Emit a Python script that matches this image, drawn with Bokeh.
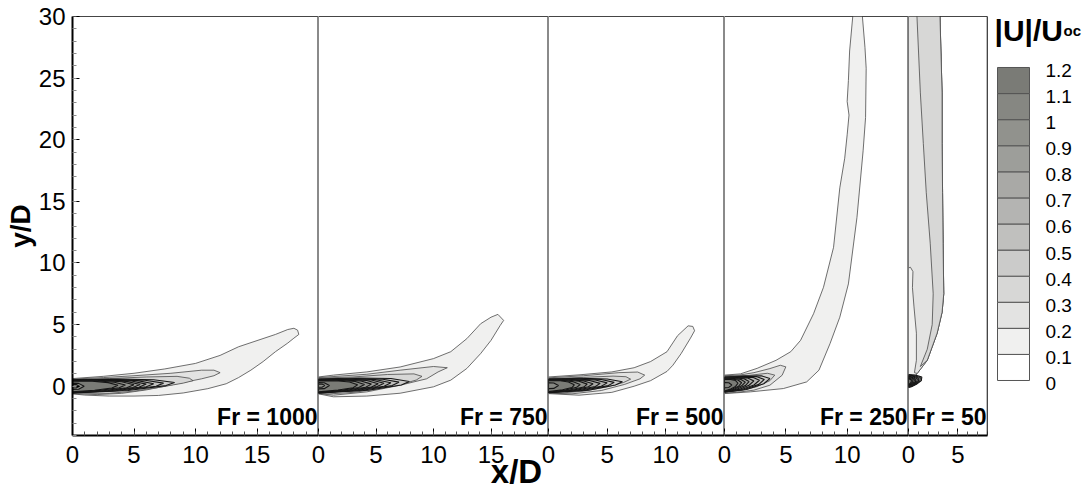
from bokeh.plotting import figure
from bokeh.models import Range1d, FixedTicker, Label, Span, ColumnDataSource
from bokeh.layouts import row, column
from bokeh.embed import file_html
from bokeh.resources import INLINE
from bokeh.core.properties import value

FONT = "Liberation Sans"

# ---------------- legend / contour levels ----------------
LEGEND_LEVELS = [0, 0.1, 0.2, 0.3, 0.4, 0.5, 0.6, 0.7, 0.8, 0.9, 1.0, 1.1, 1.2]
LEGEND_LABELS = ["0", "0.1", "0.2", "0.3", "0.4", "0.5", "0.6", "0.7", "0.8", "0.9", "1", "1.1", "1.2"]
BAND_COLORS = ["#ffffff", "#f0f0ef", "#e3e3e2", "#d7d7d6", "#cbcbca", "#c0c0be",
               "#b4b4b2", "#a9a9a6", "#9d9e9a", "#91928d", "#868782", "#7a7b76"]

# ---------------- panels ----------------
FR_LABELS = ["Fr = 1000", "Fr = 750", "Fr = 500", "Fr = 250", "Fr = 50"]
X_MAX = [20, 20, 15, 15, 8]
X_TICKS = [[0, 5, 10, 15], [0, 5, 10, 15], [0, 5, 10], [0, 5, 10], [0, 5]]
Y_TICKS = [0, 5, 10, 15, 20, 25, 30]
Y_MIN, Y_MAX = -4, 30

# Panel 1 (Fr = 1000)
P1_L1_X = [0, 2.5, 5, 7.5, 10, 12, 13.5, 15, 16.5, 17.5, 18.0, 18.3, 18.4, 18.0, 17.5, 16.5, 15.5, 14.5, 13.5, 12.5, 11, 9, 7, 5, 3, 1, 0]
P1_L1_Y = [0.62, 0.8, 1.05, 1.4, 1.85, 2.5, 3.2, 3.7, 4.2, 4.6, 4.7, 4.55, 4.2, 3.9, 3.5, 2.8, 2.0, 1.3, 0.7, 0.2, -0.2, -0.55, -0.75, -0.8, -0.8, -0.72, -0.62]
P1_L2_X = [0, 2.5, 5, 8, 10.5, 11.5, 12, 11.5, 10.5, 8, 6, 4, 2, 0]
P1_L2_Y = [0.58, 0.7, 0.85, 1.05, 1.3, 1.3, 1.1, 0.85, 0.6, 0.1, -0.3, -0.58, -0.68, -0.6]
P1_L3_X = [0, 3, 6, 8.5, 9.5, 9.8, 9, 7, 5, 3, 0]
P1_L3_Y = [0.55, 0.62, 0.75, 0.8, 0.65, 0.45, 0.25, -0.1, -0.4, -0.58, -0.56]
P1_CORE_X = [[0, 3.7, 6.6, 8.3, 7.6, 4.5, 0],
             [0, 3.3, 5.9, 7.4, 6.8, 4.0, 0],
             [0, 3.0, 5.3, 6.6, 6.0, 3.6, 0],
             [0, 2.7, 4.8, 6.0, 5.4, 3.2, 0],
             [0, 2.5, 4.4, 5.5, 4.9, 2.9, 0],
             [0, 2.2, 4.0, 5.0, 4.4, 2.6, 0],
             [0, 1.9, 3.4, 4.3, 3.8, 2.2, 0],
             [0, 1.6, 2.9, 3.7, 3.2, 1.8, 0]]
P1_CORE_Y = [[0.52, 0.58, 0.52, 0.3, 0.05, -0.35, -0.54],
             [0.5, 0.55, 0.48, 0.25, 0.0, -0.35, -0.53],
             [0.48, 0.53, 0.45, 0.2, -0.05, -0.35, -0.52],
             [0.47, 0.51, 0.42, 0.17, -0.08, -0.35, -0.51],
             [0.46, 0.49, 0.39, 0.14, -0.1, -0.35, -0.5],
             [0.45, 0.47, 0.36, 0.12, -0.12, -0.35, -0.49],
             [0.43, 0.44, 0.32, 0.1, -0.13, -0.34, -0.47],
             [0.4, 0.41, 0.29, 0.08, -0.14, -0.33, -0.45]]
P1_DIP_X = [[0, 0.5, 0.95, 0.5, 0], [0, 0.3, 0.55, 0.3, 0]]
P1_DIP_Y = [[0.25, 0.23, 0.0, -0.25, -0.27], [0.14, 0.13, 0.0, -0.14, -0.15]]

# Panel 2 (Fr = 750)
P2_L1_X = [0, 1.3, 4.2, 7.1, 10.0, 11.5, 12.9, 14.1, 15.0, 15.6, 16.1, 15.8, 15.0, 14.1, 12.9, 11.5, 10.0, 7.1, 4.2, 1.3, 0]
P2_L1_Y = [0.75, 0.9, 1.16, 1.56, 2.24, 2.8, 3.86, 5.07, 5.6, 5.83, 5.34, 4.93, 3.72, 2.65, 1.44, 0.49, -0.05, -0.57, -0.8, -0.86, -0.62]
P2_L2_X = [0, 4.2, 7.1, 10.0, 11.2, 10.4, 9.4, 7.1, 4.2, 1.3, 0]
P2_L2_Y = [0.7, 0.97, 1.3, 1.6, 1.5, 1.16, 0.6, 0.08, -0.46, -0.73, -0.6]
P2_L3_X = [0, 3, 6, 8.3, 9.0, 8.5, 7, 5, 3, 1, 0]
P2_L3_Y = [0.65, 0.75, 0.95, 1.0, 0.8, 0.5, 0.1, -0.25, -0.5, -0.62, -0.58]
P2_CORE_X = [[0, 3.5, 6.3, 7.9, 7.2, 4.3, 0],
             [0, 3.1, 5.6, 7.0, 6.4, 3.8, 0],
             [0, 2.8, 5.0, 6.3, 5.7, 3.4, 0],
             [0, 2.6, 4.6, 5.7, 5.1, 3.1, 0],
             [0, 2.3, 4.2, 5.2, 4.6, 2.8, 0],
             [0, 2.0, 3.7, 4.6, 4.1, 2.4, 0],
             [0, 1.8, 3.2, 4.0, 3.5, 2.1, 0],
             [0, 1.5, 2.7, 3.4, 3.0, 1.7, 0]]
P2_CORE_Y = [[0.58, 0.66, 0.62, 0.38, 0.1, -0.33, -0.55],
             [0.56, 0.63, 0.57, 0.33, 0.05, -0.33, -0.54],
             [0.54, 0.6, 0.53, 0.28, 0.0, -0.33, -0.53],
             [0.52, 0.57, 0.5, 0.24, -0.03, -0.33, -0.52],
             [0.5, 0.54, 0.46, 0.2, -0.06, -0.33, -0.51],
             [0.48, 0.51, 0.42, 0.17, -0.08, -0.33, -0.5],
             [0.46, 0.48, 0.38, 0.14, -0.1, -0.32, -0.48],
             [0.43, 0.44, 0.34, 0.11, -0.12, -0.31, -0.46]]
P2_DIP_X = [[0, 0.5, 0.95, 0.5, 0], [0, 0.3, 0.55, 0.3, 0]]
P2_DIP_Y = [[0.3, 0.28, 0.05, -0.2, -0.22], [0.18, 0.17, 0.05, -0.08, -0.09]]

# Panel 3 (Fr = 500)
P3_L1_X = [0, 2.6, 5.4, 7.3, 8.7, 10.1, 11.0, 11.9, 12.3, 12.45, 12.1, 11.3, 10.6, 10.1, 8.7, 7.3, 5.4, 2.6, 0]
P3_L1_Y = [0.75, 0.92, 1.16, 1.5, 2.0, 2.8, 4.1, 4.9, 4.85, 4.5, 3.9, 2.64, 1.7, 1.2, 0.45, 0.0, -0.5, -0.73, -0.6]
P3_L2_X = [0, 3, 6, 7.6, 8.2, 7.8, 6.5, 4.5, 2, 0]
P3_L2_Y = [0.68, 0.85, 1.1, 1.15, 0.9, 0.6, 0.15, -0.35, -0.62, -0.57]
P3_L3_X = [0, 3, 5.5, 6.6, 7.0, 6.4, 5, 3, 1, 0]
P3_L3_Y = [0.62, 0.72, 0.82, 0.77, 0.57, 0.3, -0.05, -0.4, -0.56, -0.54]
P3_CORE_X = [[0, 2.8, 5.0, 6.3, 5.7, 3.4, 0],
             [0, 2.5, 4.5, 5.6, 5.1, 3.0, 0],
             [0, 2.2, 4.0, 5.0, 4.5, 2.7, 0],
             [0, 2.0, 3.5, 4.4, 4.0, 2.4, 0],
             [0, 1.7, 3.0, 3.8, 3.4, 2.1, 0],
             [0, 1.5, 2.6, 3.3, 3.0, 1.8, 0],
             [0, 1.2, 2.1, 2.7, 2.4, 1.5, 0],
             [0, 1.0, 1.7, 2.2, 2.0, 1.2, 0]]
P3_CORE_Y = [[0.58, 0.64, 0.58, 0.36, 0.1, -0.33, -0.52],
             [0.56, 0.61, 0.54, 0.31, 0.05, -0.33, -0.51],
             [0.54, 0.58, 0.5, 0.27, 0.0, -0.33, -0.5],
             [0.52, 0.55, 0.47, 0.23, -0.03, -0.32, -0.49],
             [0.5, 0.52, 0.43, 0.2, -0.05, -0.32, -0.48],
             [0.48, 0.5, 0.4, 0.17, -0.07, -0.31, -0.47],
             [0.46, 0.47, 0.37, 0.14, -0.09, -0.3, -0.46],
             [0.44, 0.44, 0.34, 0.11, -0.11, -0.29, -0.44]]
P3_DIP_X = [[0, 0.45, 0.85, 0.45, 0]]
P3_DIP_Y = [[0.28, 0.26, 0.05, -0.18, -0.2]]

# Panel 4 (Fr = 250)
P4_L1_X = [0, 1.3, 2.66, 4.2, 5.4, 6.2, 7.26, 8.07, 8.89, 9.4, 9.8, 10.0, 10.15, 10.0, 10.1, 10.2, 10.5,
           11.2, 11.45, 11.55, 11.5, 11.3, 10.8, 10.1, 9.4, 8.6, 7.7, 6.7, 4.8, 2.1, 0]
P4_L1_Y = [0.9, 1.0, 1.45, 2.1, 2.8, 3.72, 5.88, 8.03, 11.27, 16.1, 18.5, 20.4, 22.0, 23.1, 24.8, 27.2, 30.5,
           30.5, 27.5, 25.8, 21.8, 19.1, 13.7, 8.3, 5.6, 3.45, 1.3, 0.35, -0.19, -0.46, -0.6]
P4_L2_X = [0, 1.2, 2.4, 3.7, 4.55, 5.0, 4.7, 3.7, 2.4, 1.0, 0]
P4_L2_Y = [0.85, 0.9, 1.1, 1.43, 1.7, 1.57, 0.89, 0.08, -0.32, -0.5, -0.55]
P4_L3_X = [0, 2, 3.5, 4.1, 3.7, 2.6, 1.2, 0]
P4_L3_Y = [0.8, 0.88, 1.05, 0.9, 0.45, -0.05, -0.38, -0.5]
P4_CORE_X = [[0, 1.6, 3.0, 3.7, 3.2, 1.8, 0],
             [0, 1.4, 2.6, 3.25, 2.8, 1.6, 0],
             [0, 1.2, 2.3, 2.85, 2.4, 1.4, 0],
             [0, 1.0, 1.9, 2.4, 2.0, 1.2, 0],
             [0, 0.9, 1.6, 2.0, 1.7, 1.0, 0],
             [0, 0.8, 1.35, 1.7, 1.4, 0.8, 0],
             [0, 0.6, 1.1, 1.4, 1.15, 0.65, 0],
             [0, 0.5, 0.9, 1.1, 0.9, 0.5, 0]]
P4_CORE_Y = [[0.75, 0.82, 0.85, 0.62, 0.2, -0.27, -0.47],
             [0.72, 0.78, 0.78, 0.55, 0.15, -0.27, -0.46],
             [0.69, 0.74, 0.72, 0.48, 0.1, -0.27, -0.45],
             [0.66, 0.7, 0.66, 0.43, 0.08, -0.26, -0.44],
             [0.63, 0.66, 0.6, 0.38, 0.05, -0.25, -0.43],
             [0.6, 0.62, 0.55, 0.33, 0.03, -0.24, -0.42],
             [0.57, 0.58, 0.5, 0.28, 0.0, -0.23, -0.41],
             [0.54, 0.54, 0.46, 0.24, -0.02, -0.22, -0.4]]
P4_DIP_X = [[0, 0.35, 0.6, 0.35, 0]]
P4_DIP_Y = [[0.3, 0.28, 0.1, -0.1, -0.12]]

# Panel 5 (Fr = 50)
P5_L1_X = [0, 3.17, 3.4, 3.4, 3.45, 3.5, 3.57, 3.4, 2.9, 1.9, 0.88, 0.2, 0]
P5_L1_Y = [30.5, 30.5, 23.8, 19.7, 15.7, 11.6, 7.5, 6.0, 4.3, 2.1, 1.03, 0.3, -0.1]
P5_L2_X = [0, 3.17, 3.4, 3.4, 3.45, 3.5, 3.57, 3.4, 2.9, 1.9, 0.88, 0.6, 0.8, 0.8, 0.55, 0.4, 0.45, 0.2, 0]
P5_L2_Y = [30.5, 30.5, 23.8, 19.7, 15.7, 11.6, 7.5, 6.0, 4.3, 2.1, 1.03, 1.1, 2.1, 4.3, 6.5, 8.0, 9.3, 9.65, 9.6]
P5_L3_X = [0.83, 3.17, 3.4, 3.4, 3.45, 3.5, 3.57, 3.4, 2.9, 1.9, 1.2, 1.9, 2.4, 2.5, 2.2, 1.8, 1.5, 1.2]
P5_L3_Y = [30.5, 30.5, 23.8, 19.7, 15.7, 11.6, 7.5, 6.0, 4.3, 2.1, 1.6, 3.0, 5.0, 7.5, 11.6, 15.7, 19.7, 23.8]
P5_CORE_X = [[0, 0.7, 1.35, 1.3, 0.8, 0.3, 0],
             [0, 0.6, 1.2, 1.15, 0.7, 0.25, 0],
             [0, 0.55, 1.05, 1.0, 0.6, 0.2, 0],
             [0, 0.5, 0.9, 0.85, 0.5, 0.15, 0],
             [0, 0.4, 0.75, 0.7, 0.4, 0.1, 0],
             [0, 0.35, 0.6, 0.55, 0.3, 0.08, 0],
             [0, 0.28, 0.45, 0.4, 0.2, 0.05, 0],
             [0, 0.2, 0.3, 0.25, 0.12, 0.03, 0]]
P5_CORE_Y = [[0.95, 0.9, 0.75, 0.45, 0.15, -0.05, -0.1],
             [0.9, 0.85, 0.7, 0.42, 0.15, -0.03, -0.08],
             [0.85, 0.8, 0.65, 0.4, 0.15, 0.0, -0.05],
             [0.8, 0.75, 0.6, 0.38, 0.15, 0.02, -0.02],
             [0.75, 0.7, 0.55, 0.35, 0.15, 0.05, 0.02],
             [0.7, 0.66, 0.52, 0.33, 0.17, 0.08, 0.06],
             [0.65, 0.6, 0.48, 0.32, 0.18, 0.12, 0.1],
             [0.6, 0.55, 0.45, 0.3, 0.2, 0.16, 0.15]]

PANEL_DATA = [
    (P1_L1_X, P1_L1_Y, P1_L2_X, P1_L2_Y, P1_L3_X, P1_L3_Y, P1_CORE_X, P1_CORE_Y, P1_DIP_X, P1_DIP_Y),
    (P2_L1_X, P2_L1_Y, P2_L2_X, P2_L2_Y, P2_L3_X, P2_L3_Y, P2_CORE_X, P2_CORE_Y, P2_DIP_X, P2_DIP_Y),
    (P3_L1_X, P3_L1_Y, P3_L2_X, P3_L2_Y, P3_L3_X, P3_L3_Y, P3_CORE_X, P3_CORE_Y, P3_DIP_X, P3_DIP_Y),
    (P4_L1_X, P4_L1_Y, P4_L2_X, P4_L2_Y, P4_L3_X, P4_L3_Y, P4_CORE_X, P4_CORE_Y, P4_DIP_X, P4_DIP_Y),
    (P5_L1_X, P5_L1_Y, P5_L2_X, P5_L2_Y, P5_L3_X, P5_L3_Y, P5_CORE_X, P5_CORE_Y, [], []),
]

# ---------------- layout (pixels) ----------------
FRAME_W = [246, 230, 176, 184, 79]
FRAME_H = 419
TOTAL_H = 489
TOTAL_W = 1089
TOP_B = 16
BOT_B = TOTAL_H - TOP_B - FRAME_H
OVERLAP = 8
STRIP_H = 44

y_range = Range1d(Y_MIN, Y_MAX)
figs = []
for i in range(5):
    first = i == 0
    last = i == 4
    p = figure(frame_width=FRAME_W[i], frame_height=FRAME_H,
               x_range=Range1d(0, X_MAX[i]), y_range=y_range,
               output_backend="svg", toolbar_location=None,
               y_axis_location="left" if first else None,
               min_border_left=72 if first else OVERLAP,
               min_border_right=1 if last else 0,
               min_border_top=TOP_B, min_border_bottom=BOT_B,
               border_fill_color=None, background_fill_color="white",
               outline_line_color="#8a8a8a", outline_line_width=1)
    if not first:
        p.margin = (0, 0, 0, -OVERLAP)
    p.grid.visible = False

    # contour bands: outer levels then dense core levels
    l1x, l1y, l2x, l2y, l3x, l3y, cx, cy, dx, dy = PANEL_DATA[i]
    outer = ColumnDataSource(dict(xs=[l1x, l2x, l3x], ys=[l1y, l2y, l3y],
                                  fill=[BAND_COLORS[1], BAND_COLORS[2], BAND_COLORS[3]]))
    p.patches("xs", "ys", source=outer, fill_color="fill", line_color="#4a4a4a", line_width=0.8)
    core_fills = [BAND_COLORS[4 + k] for k in range(len(cx))] + [BAND_COLORS[10 - k] for k in range(len(dx))]
    core = ColumnDataSource(dict(xs=cx + dx, ys=cy + dy, fill=core_fills))
    p.patches("xs", "ys", source=core, fill_color="fill", line_color="#151515", line_width=1.1)

    # x axis
    ax = p.xaxis[0]
    ax.ticker = FixedTicker(ticks=X_TICKS[i], minor_ticks=list(range(0, X_MAX[i] + 1)))
    ax.major_label_text_font = FONT
    ax.major_label_text_font_size = "24px"
    ax.major_label_text_color = "black"
    ax.axis_line_color = "black"
    ax.axis_line_width = 2
    ax.major_tick_in = 7
    ax.major_tick_out = 0
    ax.major_tick_line_color = "black"
    ax.minor_tick_in = 4
    ax.minor_tick_out = 0
    ax.minor_tick_line_color = "#555555"
    ax.major_label_standoff = 10

    if first:
        ay = p.yaxis[0]
        ay.ticker = FixedTicker(ticks=Y_TICKS, minor_ticks=list(range(Y_MIN, Y_MAX + 1)))
        ay.major_label_text_font = FONT
        ay.major_label_text_font_size = "24px"
        ay.major_label_text_color = "black"
        ay.axis_line_color = "black"
        ay.axis_line_width = 2
        ay.major_tick_in = 7
        ay.major_tick_out = 0
        ay.minor_tick_in = 4
        ay.minor_tick_out = 0
        ay.minor_tick_line_color = "#8a8a8a"
        ay.major_label_standoff = 7
        ay.axis_label = "y/D"
        ay.axis_label_text_font = FONT
        ay.axis_label_text_font_size = "28px"
        ay.axis_label_text_font_style = "bold"
        ay.axis_label_text_color = "black"
        ay.axis_label_standoff = 0

    p.add_layout(Span(location=Y_MAX, dimension="width", line_color="black", line_width=1))
    if last:
        p.add_layout(Span(location=X_MAX[i], dimension="height", line_color="black", line_width=1.5))

    p.add_layout(Label(x=X_MAX[i], y=-2.5, text=FR_LABELS[i], text_align="right",
                       text_baseline="alphabetic", text_font=FONT, text_font_size="23px",
                       text_font_style="bold", text_color="black", x_offset=-1))
    figs.append(p)

# ---------------- colour legend ----------------
LEG_W = 101
leg = figure(frame_width=LEG_W, frame_height=FRAME_H,
             x_range=Range1d(0, LEG_W), y_range=Range1d(-0.2109, 1.3955),
             output_backend="svg", toolbar_location=None,
             x_axis_location=None, y_axis_location=None,
             min_border_left=0, min_border_right=0, min_border_top=TOP_B, min_border_bottom=BOT_B,
             border_fill_color=None, background_fill_color=None, outline_line_color=None)
leg.grid.visible = False
box_src = ColumnDataSource(dict(y=[v + 0.05 for v in LEGEND_LEVELS[:-1]], fill=BAND_COLORS))
leg.rect(x=25, y="y", width=32, height=0.1, source=box_src, fill_color="fill",
         line_color="#555555", line_width=1)
lab_src = ColumnDataSource(dict(y=LEGEND_LEVELS, t=LEGEND_LABELS))
leg.text(x=57, y="y", text="t", source=lab_src, text_font=value(FONT), text_font_size="19px",
         text_baseline="middle", text_align="left", text_color="black", y_offset=3)
leg.add_layout(Label(x=6, y=1.342, text="|U|/U", text_font=FONT, text_font_size="30px",
                     text_font_style="bold", text_baseline="alphabetic", text_color="black"))
leg.add_layout(Label(x=75, y=1.342, text="oc", text_font=FONT, text_font_size="15px",
                     text_font_style="bold", text_baseline="alphabetic", text_color="black"))

# ---------------- bottom strip carrying the shared x-axis title ----------------
strip = figure(frame_width=TOTAL_W, frame_height=STRIP_H,
               x_range=Range1d(0, TOTAL_W), y_range=Range1d(0, STRIP_H),
               output_backend="svg", toolbar_location=None,
               x_axis_location=None, y_axis_location=None,
               min_border_left=0, min_border_right=0, min_border_top=0, min_border_bottom=0,
               border_fill_color=None, background_fill_color=None, outline_line_color=None)
strip.grid.visible = False
strip.margin = (-STRIP_H, 0, 0, 0)
strip.text(x=[516], y=[18.5], text=["x/D"], text_font=value(FONT), text_font_size="33px",
           text_font_style="bold", text_align="center", text_baseline="middle", text_color="black")

layout = column(row(*figs, leg), strip)
with open("out.html", "w") as f:
    f.write(file_html(layout, INLINE))
